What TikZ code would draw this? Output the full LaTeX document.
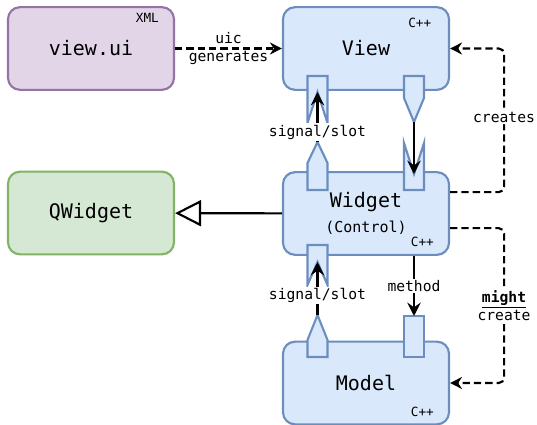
\documentclass[tikz,border=0pt]{standalone}
\usepackage{fontspec}
\setmainfont{DejaVu Sans Mono}
\usetikzlibrary{arrows.meta}
\definecolor{uifill}{HTML}{E1D5E7}
\definecolor{uidraw}{HTML}{9673A6}
\definecolor{qtfill}{HTML}{DAE8FC}
\definecolor{qtdraw}{HTML}{6C8EBF}
\definecolor{basefill}{HTML}{D5E8D4}
\definecolor{basedraw}{HTML}{82B366}
\tikzset{
  qt box/.style={
    rectangle,rounded corners=9pt,draw=qtdraw,fill=qtfill,line width=1.6pt,
    minimum width=124.5pt,minimum height=62pt,align=center,
    font=\fontsize{15}{18}\selectfont
  },
  qt tag/.style={font=\fontsize{9.5}{11}\selectfont,inner sep=0pt},
  qt port/.style={draw=qtdraw,fill=qtfill,line width=1.6pt,line join=miter},
  qt link/.style={line width=1.6pt,-{Stealth[length=10pt,width=10pt,inset=3.5pt]}},
  qt dash/.style={line width=1.6pt,-{Stealth[length=9pt,width=9pt,inset=3pt]},
    dash pattern=on 5.5pt off 3pt,rounded corners=4pt},
  qt label/.style={fill=white,inner sep=1pt,align=center,
    font=\fontsize{11}{13.5}\selectfont}
}
% plug: tip at #2, pointing up unless rotated
\newcommand{\plugat}[5][]{%
  \begin{scope}[shift={(#2)},#1]
    \draw[qt port] (0,0)--(10,#4)--(10,#5)--(-10,#5)--(-10,#4)--cycle;
  \end{scope}%
  \coordinate (#3) at (#2);
}
% socket: notch apex at #2, open downwards unless rotated
\newcommand{\socketat}[5][]{%
  \begin{scope}[shift={(#2)},#1]
    \draw[qt port] (0,0)--(10,#4)--(10,#4-#5)--(-10,#4-#5)--(-10,#4)--cycle;
  \end{scope}%
  \coordinate (#3) at (#2);
}

\begin{document}
\begin{tikzpicture}[x=0.75pt,y=-0.75pt]
  \useasboundingbox (0,0) rectangle (537,425);

  \node[qt box,draw=uidraw,fill=uifill] (viewui) at (91,48.5) {view.ui};
  \node[qt box] (view) at (366,48.5) {View};
  \node[qt box,draw=basedraw,fill=basefill] (qwidget) at (91,213) {QWidget};
  \node[qt box] (widget) at (366,213.5)
    {\raisebox{-2pt}{Widget}\\[3pt]{\fontsize{11.25}{13}\selectfont(Control)}};
  \node[qt box] (model) at (366,383) {Model};

  \node[qt tag,anchor=north east] (viewui-tag) at ([shift={(-12pt,-5.5pt)}]viewui.north east) {XML};
  \node[qt tag,anchor=north east] (view-tag) at ([shift={(-14pt,-8.5pt)}]view.north east) {C++};
  \node[qt tag,anchor=south east] (widget-tag) at ([shift={(-12pt,6.5pt)}]widget.south east) {C++};
  \node[qt tag,anchor=south east] (model-tag) at ([shift={(-12pt,6.5pt)}]model.south east) {C++};

  % ports
  \socketat{317.5,92}{view-slot}{31}{47}
  \plugat[rotate=180]{414,122}{view-sig}{24}{46}
  \plugat{317.5,142}{widget-sig}{21}{48}
  \socketat[rotate=180]{414,174}{widget-slot}{31}{47}
  \socketat{317.5,262}{ctl-in}{23}{40}
  \plugat{317.5,315}{model-sig}{25}{42}
  \draw[qt port] (404,316) rectangle (424,357);
  \coordinate (model-call) at (414,316);

  \draw[qt dash] (viewui) -- node[align=center,font=\fontsize{11}{13.5}\selectfont]{uic\\generates} (view);
  \draw[line width=1.6pt,-{Triangle[open,length=19.5pt,width=19.5pt,fill=white]}]
    (widget) -- (qwidget);

  \draw[qt link] (widget-sig) -- node[qt label,pos=0.2]{signal/slot} (view-slot);
  \draw[qt link] (view-sig) -- (widget-slot);
  \draw[qt link] (model-sig) -- node[qt label,pos=0.36]{signal/slot} (ctl-in);
  \draw[qt link] (widget.south -| model-call) -- node[qt label]{method} (model-call);

  \draw[qt dash] ([yshift=16pt]widget.east) -- ++(54,0)
    |- node[qt label,pos=0.26]{creates} (view.east);
  \draw[qt dash] ([yshift=-11pt]widget.east) -- ++(54,0)
    |- node[qt label,pos=0.25]{\underline{\textbf{might}}\\create} (model.east);
\end{tikzpicture}
\end{document}
